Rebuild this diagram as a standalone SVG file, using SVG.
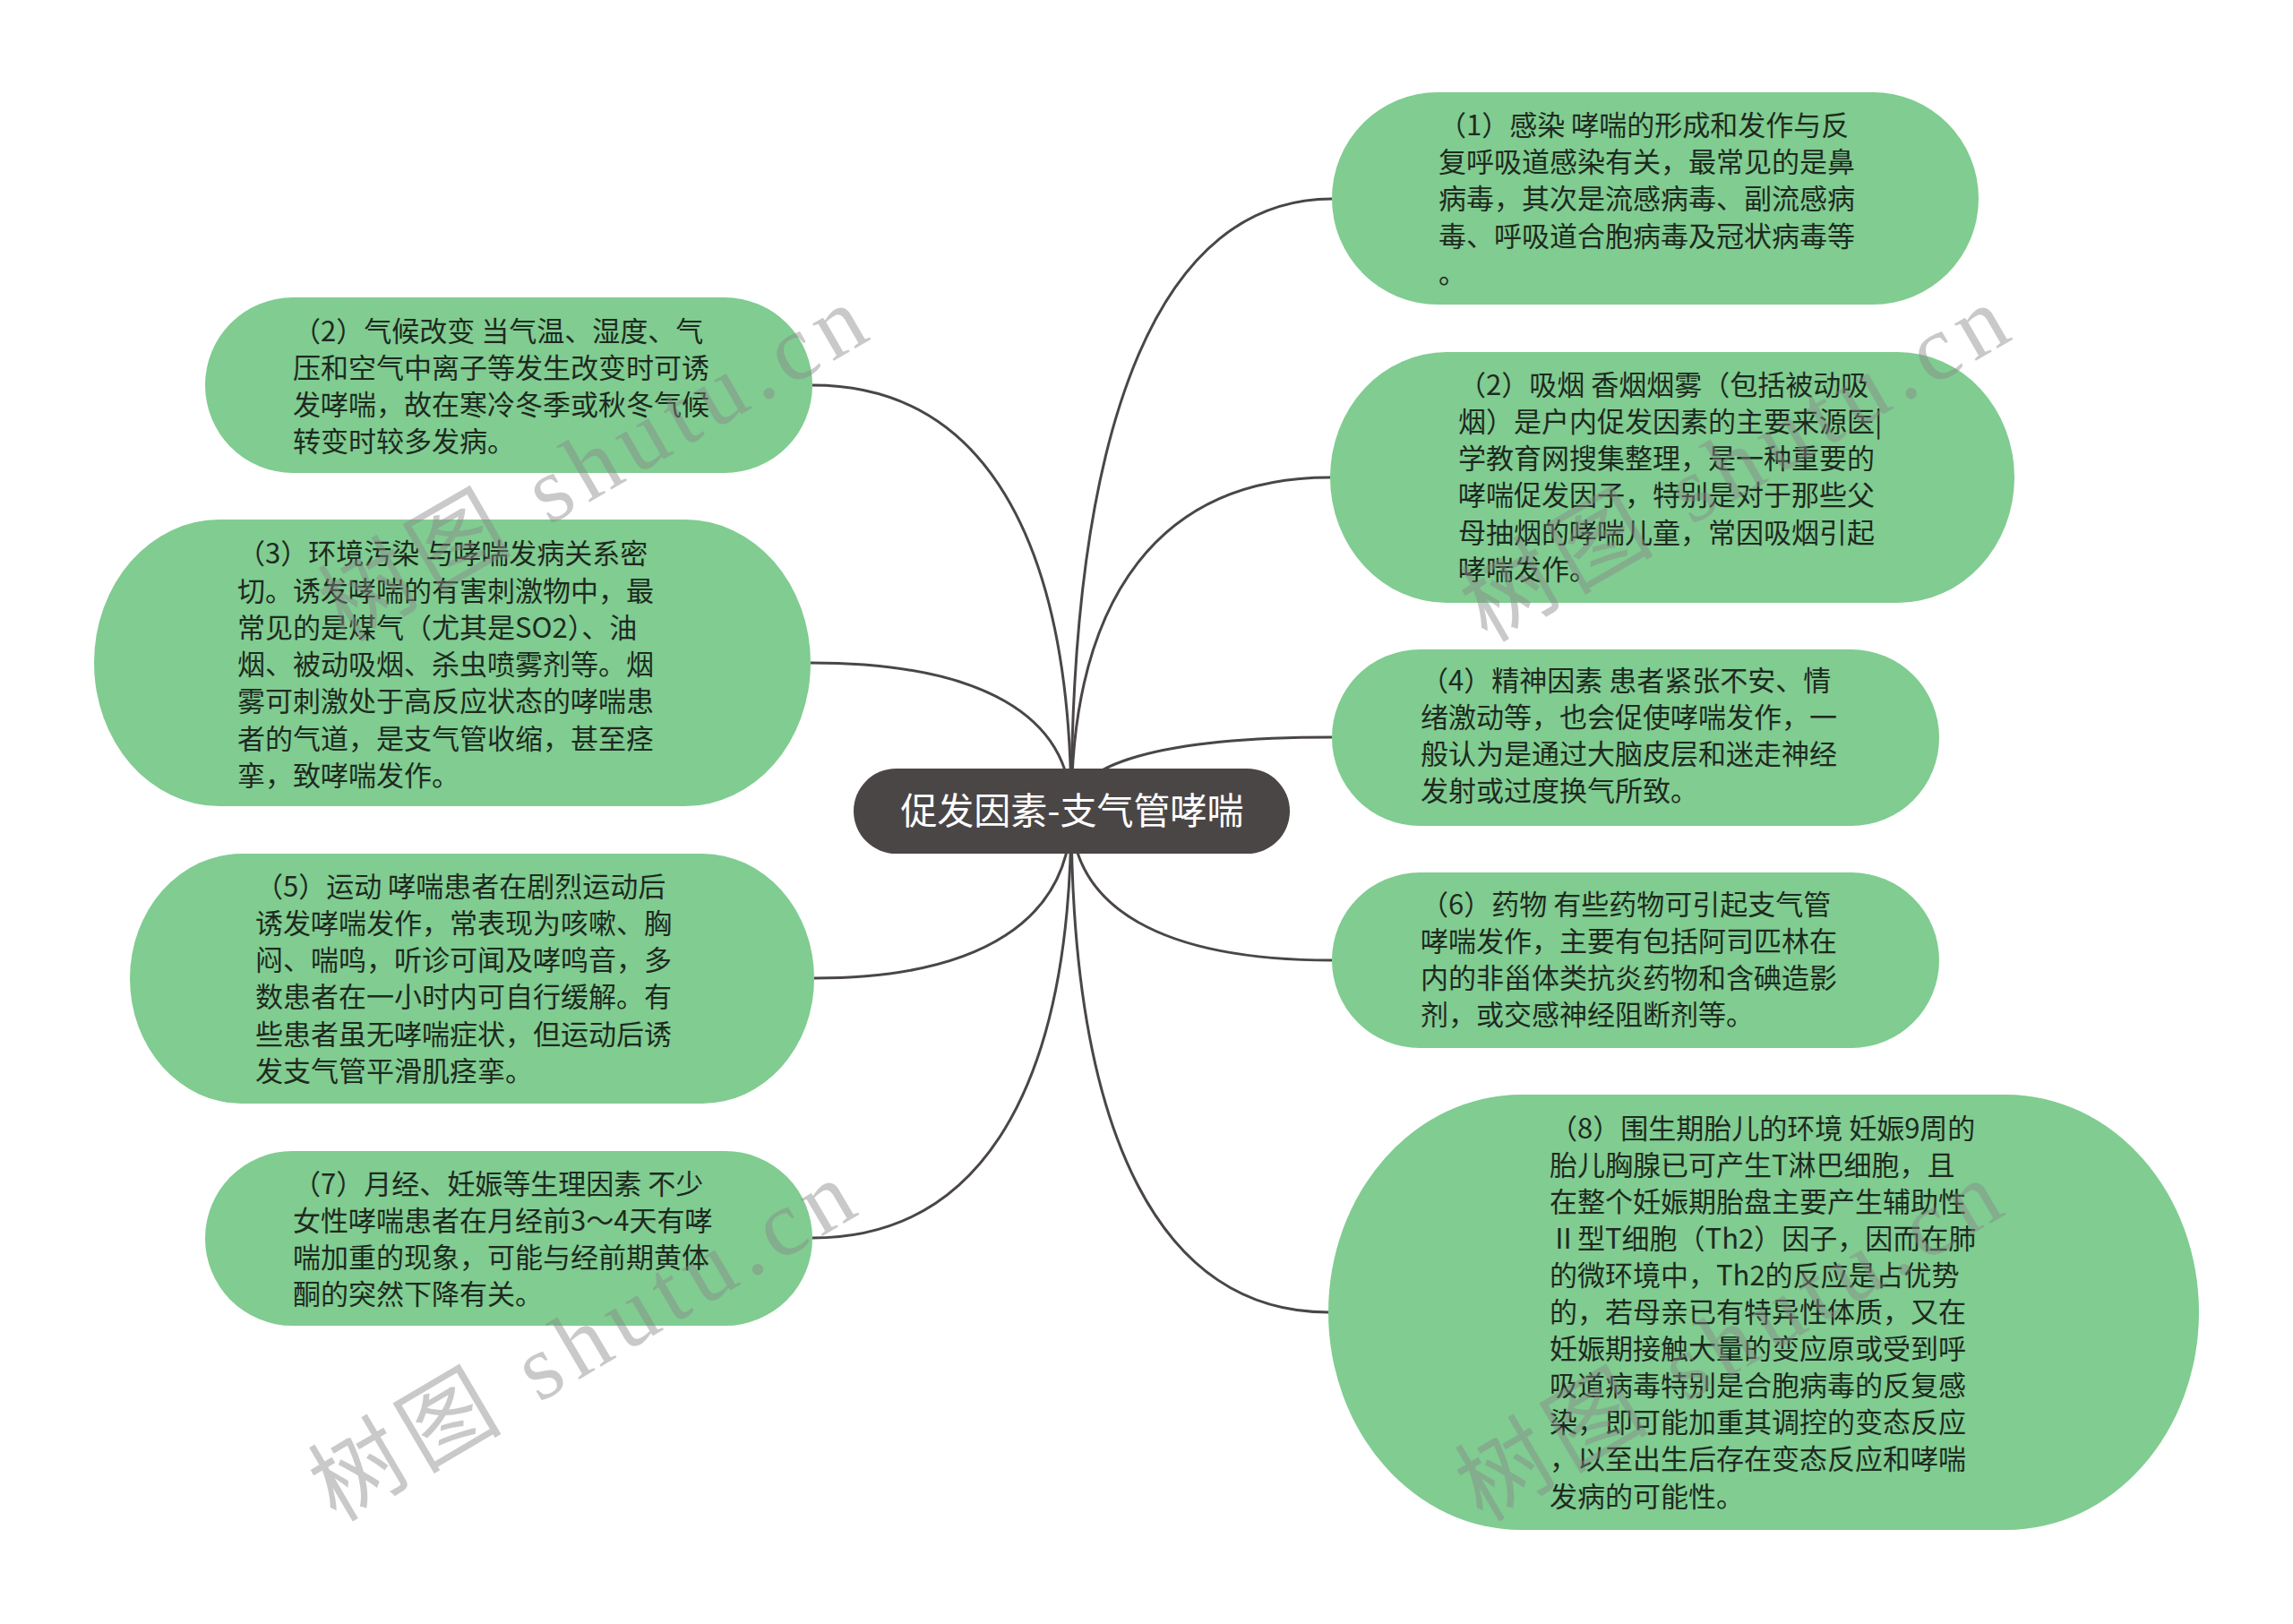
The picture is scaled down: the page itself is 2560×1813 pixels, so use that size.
<svg xmlns="http://www.w3.org/2000/svg" width="2560" height="1813" viewBox="0 0 2560 1813">
<style>
.bg{fill:#ffffff}
.node{fill:#80cc91}
.root{fill:#4b4646}
.t{font-family:"Noto Sans CJK SC","Noto Sans",sans-serif;font-size:31px;fill:#1e2a20}
.rt{font-family:"Noto Sans CJK SC","Noto Sans",sans-serif;font-size:41px;fill:#ffffff;text-anchor:middle}
.link{fill:none;stroke:#4b4646;stroke-width:3}
.wm{font-family:"Liberation Serif","Noto Sans CJK SC",serif;font-size:104px;fill:#888888;fill-opacity:0.45}
</style>
<rect class="bg" x="0" y="0" width="2560" height="1813"/>
<g id="connectors">
<path class="link" d="M1196 906 C1196 461.4 1297.85 222 1487 222"/>
<path class="link" d="M1196 906 C1196 663.55 1297.15 533 1485 533"/>
<path class="link" d="M1196 906 C1196 852.05 1297.85 823 1487 823"/>
<path class="link" d="M1196 906 C1196 1013.9 1297.85 1072 1487 1072"/>
<path class="link" d="M1196 906 C1196 1269.35 1296.45 1465 1483 1465"/>
<path class="link" d="M1196 906 C1196 596.6 1094.85 430 907 430"/>
<path class="link" d="M1196 906 C1196 798.1 1094.15 740 905 740"/>
<path class="link" d="M1196 906 C1196 1026.9 1095.55 1092 909 1092"/>
<path class="link" d="M1196 906 C1196 1215.4 1094.85 1382 907 1382"/>
</g>
<g id="root">
<rect class="root" x="953" y="858" width="487" height="95" rx="47.5" ry="47.5"/>
<text class="rt" x="1197" y="920">促发因素-支气管哮喘</text>
</g>
<g id="r1">
<rect class="node" x="1487" y="103" width="722" height="237" rx="118" ry="118.5"/>
<text class="t"><tspan x="1606" y="150.8">（1）感染 哮喘的形成和发作与反</tspan><tspan x="1606" dy="41.3">复呼吸道感染有关，最常见的是鼻</tspan><tspan x="1606" dy="41.3">病毒，其次是流感病毒、副流感病</tspan><tspan x="1606" dy="41.3">毒、呼吸道合胞病毒及冠状病毒等</tspan><tspan x="1606" dy="41.3">。</tspan></text>
</g>
<g id="r2">
<rect class="node" x="1485" y="393" width="764" height="280" rx="130" ry="140"/>
<text class="t"><tspan x="1628" y="440.5">（2）吸烟 香烟烟雾（包括被动吸</tspan><tspan x="1628" dy="41.3">烟）是户内促发因素的主要来源医|</tspan><tspan x="1628" dy="41.3">学教育网搜集整理，是一种重要的</tspan><tspan x="1628" dy="41.3">哮喘促发因子，特别是对于那些父</tspan><tspan x="1628" dy="41.3">母抽烟的哮喘儿童，常因吸烟引起</tspan><tspan x="1628" dy="41.3">哮喘发作。</tspan></text>
</g>
<g id="r3">
<rect class="node" x="1487" y="725" width="678" height="197" rx="98" ry="98.5"/>
<text class="t"><tspan x="1586" y="770.5">（4）精神因素 患者紧张不安、情</tspan><tspan x="1586" dy="41.3">绪激动等，也会促使哮喘发作，一</tspan><tspan x="1586" dy="41.3">般认为是通过大脑皮层和迷走神经</tspan><tspan x="1586" dy="41.3">发射或过度换气所致。</tspan></text>
</g>
<g id="r4">
<rect class="node" x="1487" y="974" width="678" height="196" rx="98" ry="98"/>
<text class="t"><tspan x="1586" y="1020.5">（6）药物 有些药物可引起支气管</tspan><tspan x="1586" dy="41.3">哮喘发作，主要有包括阿司匹林在</tspan><tspan x="1586" dy="41.3">内的非甾体类抗炎药物和含碘造影</tspan><tspan x="1586" dy="41.3">剂，或交感神经阻断剂等。</tspan></text>
</g>
<g id="r5">
<rect class="node" x="1483" y="1222" width="972" height="486" rx="215" ry="243"/>
<text class="t"><tspan x="1730" y="1270.5">（8）围生期胎儿的环境 妊娠9周的</tspan><tspan x="1730" dy="41.1">胎儿胸腺已可产生T淋巴细胞，且</tspan><tspan x="1730" dy="41.1">在整个妊娠期胎盘主要产生辅助性</tspan><tspan x="1730" dy="41.1">Ⅱ型T细胞（Th2）因子，因而在肺</tspan><tspan x="1730" dy="41.1">的微环境中，Th2的反应是占优势</tspan><tspan x="1730" dy="41.1">的，若母亲已有特异性体质，又在</tspan><tspan x="1730" dy="41.1">妊娠期接触大量的变应原或受到呼</tspan><tspan x="1730" dy="41.1">吸道病毒特别是合胞病毒的反复感</tspan><tspan x="1730" dy="41.1">染，即可能加重其调控的变态反应</tspan><tspan x="1730" dy="41.1">，以至出生后存在变态反应和哮喘</tspan><tspan x="1730" dy="41.1">发病的可能性。</tspan></text>
</g>
<g id="l1">
<rect class="node" x="229" y="332" width="678" height="196" rx="98" ry="98"/>
<text class="t"><tspan x="327" y="380.5">（2）气候改变 当气温、湿度、气</tspan><tspan x="327" dy="41.3">压和空气中离子等发生改变时可诱</tspan><tspan x="327" dy="41.3">发哮喘，故在寒冷冬季或秋冬气候</tspan><tspan x="327" dy="41.3">转变时较多发病。</tspan></text>
</g>
<g id="l2">
<rect class="node" x="105" y="580" width="800" height="320" rx="140" ry="160"/>
<text class="t"><tspan x="265" y="629.2">（3）环境污染 与哮喘发病关系密</tspan><tspan x="265" dy="41.3">切。诱发哮喘的有害刺激物中，最</tspan><tspan x="265" dy="41.3">常见的是煤气（尤其是SO2）、油</tspan><tspan x="265" dy="41.3">烟、被动吸烟、杀虫喷雾剂等。烟</tspan><tspan x="265" dy="41.3">雾可刺激处于高反应状态的哮喘患</tspan><tspan x="265" dy="41.3">者的气道，是支气管收缩，甚至痉</tspan><tspan x="265" dy="41.3">挛，致哮喘发作。</tspan></text>
</g>
<g id="l3">
<rect class="node" x="145" y="953" width="764" height="279" rx="125" ry="139.5"/>
<text class="t"><tspan x="285" y="1000.5">（5）运动 哮喘患者在剧烈运动后</tspan><tspan x="285" dy="41.3">诱发哮喘发作，常表现为咳嗽、胸</tspan><tspan x="285" dy="41.3">闷、喘鸣，听诊可闻及哮鸣音，多</tspan><tspan x="285" dy="41.3">数患者在一小时内可自行缓解。有</tspan><tspan x="285" dy="41.3">些患者虽无哮喘症状，但运动后诱</tspan><tspan x="285" dy="41.3">发支气管平滑肌痉挛。</tspan></text>
</g>
<g id="l4">
<rect class="node" x="229" y="1285" width="678" height="195" rx="97.5" ry="97.5"/>
<text class="t"><tspan x="327" y="1332.5">（7）月经、妊娠等生理因素 不少</tspan><tspan x="327" dy="41.3">女性哮喘患者在月经前3～4天有哮</tspan><tspan x="327" dy="41.3">喘加重的现象，可能与经前期黄体</tspan><tspan x="327" dy="41.3">酮的突然下降有关。</tspan></text>
</g>
<g id="watermarks">
<text class="wm" transform="translate(385,718) rotate(-30)" textLength="680" lengthAdjust="spacing">树图 shutu.cn</text>
<text class="wm" transform="translate(1660,718) rotate(-30)" textLength="680" lengthAdjust="spacing">树图 shutu.cn</text>
<text class="wm" transform="translate(375,1700) rotate(-30.5)" textLength="680" lengthAdjust="spacing">树图 shutu.cn</text>
<text class="wm" transform="translate(1655,1700) rotate(-30.5)" textLength="680" lengthAdjust="spacing">树图 shutu.cn</text>
</g>
</svg>
